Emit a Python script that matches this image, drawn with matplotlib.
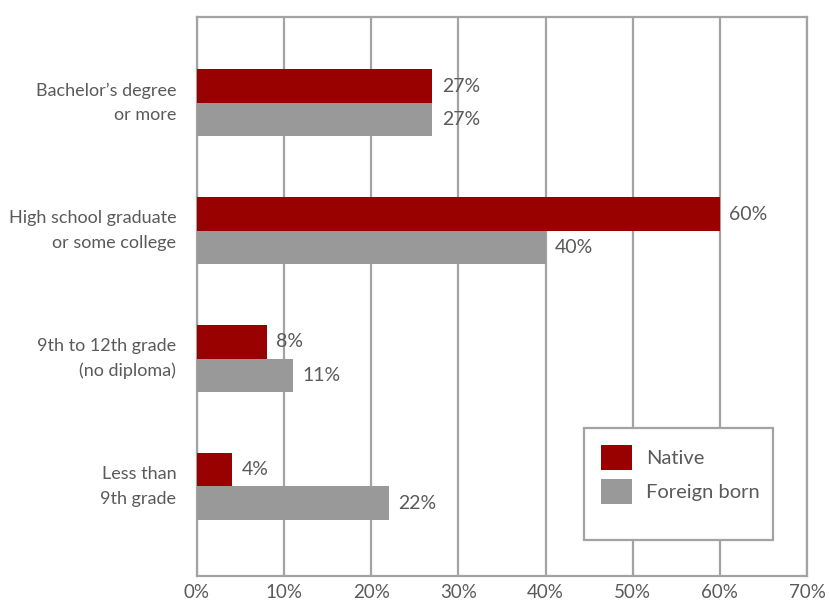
import numpy as np
import matplotlib.pyplot as plt
from matplotlib.patches import Patch, Rectangle

categories = ["Less than\n9th grade", "9th to 12th grade\n(no diploma)",
              "High school graduate\nor some college", "Bachelor\u2019s degree\nor more"]
native = [4, 8, 60, 27]
foreign = [22, 11, 40, 27]
xticks = [0, 10, 20, 30, 40, 50, 60, 70]

RED = "#990000"
GREY = "#999999"
TEXT = "#5a5a5a"
LINE = "#a3a3a3"

plt.rcParams['font.family'] = ['Lato', 'DejaVu Sans']

fig = plt.figure(figsize=(8.3, 6.05), dpi=100)
ax = fig.add_axes([0.2373, 0.0479, 0.9723 - 0.2373, 0.9719 - 0.0479])

y = np.arange(len(categories))
h = 0.26
ax.barh(y + h / 2, native, height=h, color=RED, zorder=3, label="Native")
ax.barh(y - h / 2, foreign, height=h, color=GREY, zorder=3, label="Foreign born")

for yi, v in zip(y + h / 2, native):
    ax.text(v + 1.1, yi, f"{v}%", va="center", ha="left", fontsize=14, color=TEXT)
for yi, v in zip(y - h / 2, foreign):
    ax.text(v + 1.1, yi, f"{v}%", va="center", ha="left", fontsize=14, color=TEXT)

ax.set_xlim(0, 70)
ax.set_ylim(-0.70, 3.67)
ax.set_xticks(xticks)
ax.set_xticklabels([f"{t}%" for t in xticks])
ax.set_yticks(y)
ax.set_yticklabels(categories, ha="right", va="center", linespacing=1.65)
ax.tick_params(length=0, colors=TEXT)
ax.tick_params(axis="y", pad=15, labelsize=13)
ax.tick_params(axis="x", pad=6, labelsize=13.5)
ax.xaxis.grid(True, color=LINE, linewidth=1.6, zorder=0)
for s in ax.spines.values():
    s.set_color(LINE)
    s.set_linewidth(1.6)

# legend box drawn separately so the padding can be uneven
ax.add_patch(Rectangle((0.634, 0.0644), 0.31, 0.2004, transform=ax.transAxes,
                       facecolor="white", edgecolor=LINE, linewidth=1.6, zorder=5))
handles = [Patch(facecolor=RED, label="Native"), Patch(facecolor=GREY, label="Foreign born")]
leg = ax.legend(handles=handles, loc="upper left", bbox_to_anchor=(0.6623, 0.2343),
                fontsize=14.5, frameon=False, handlelength=1.55,
                handleheight=1.55, handletextpad=0.67, borderpad=0, labelspacing=0.41,
                borderaxespad=0)
leg.set_zorder(6)
for t in leg.get_texts():
    t.set_color(TEXT)

fig.savefig("out.png", dpi=100)
